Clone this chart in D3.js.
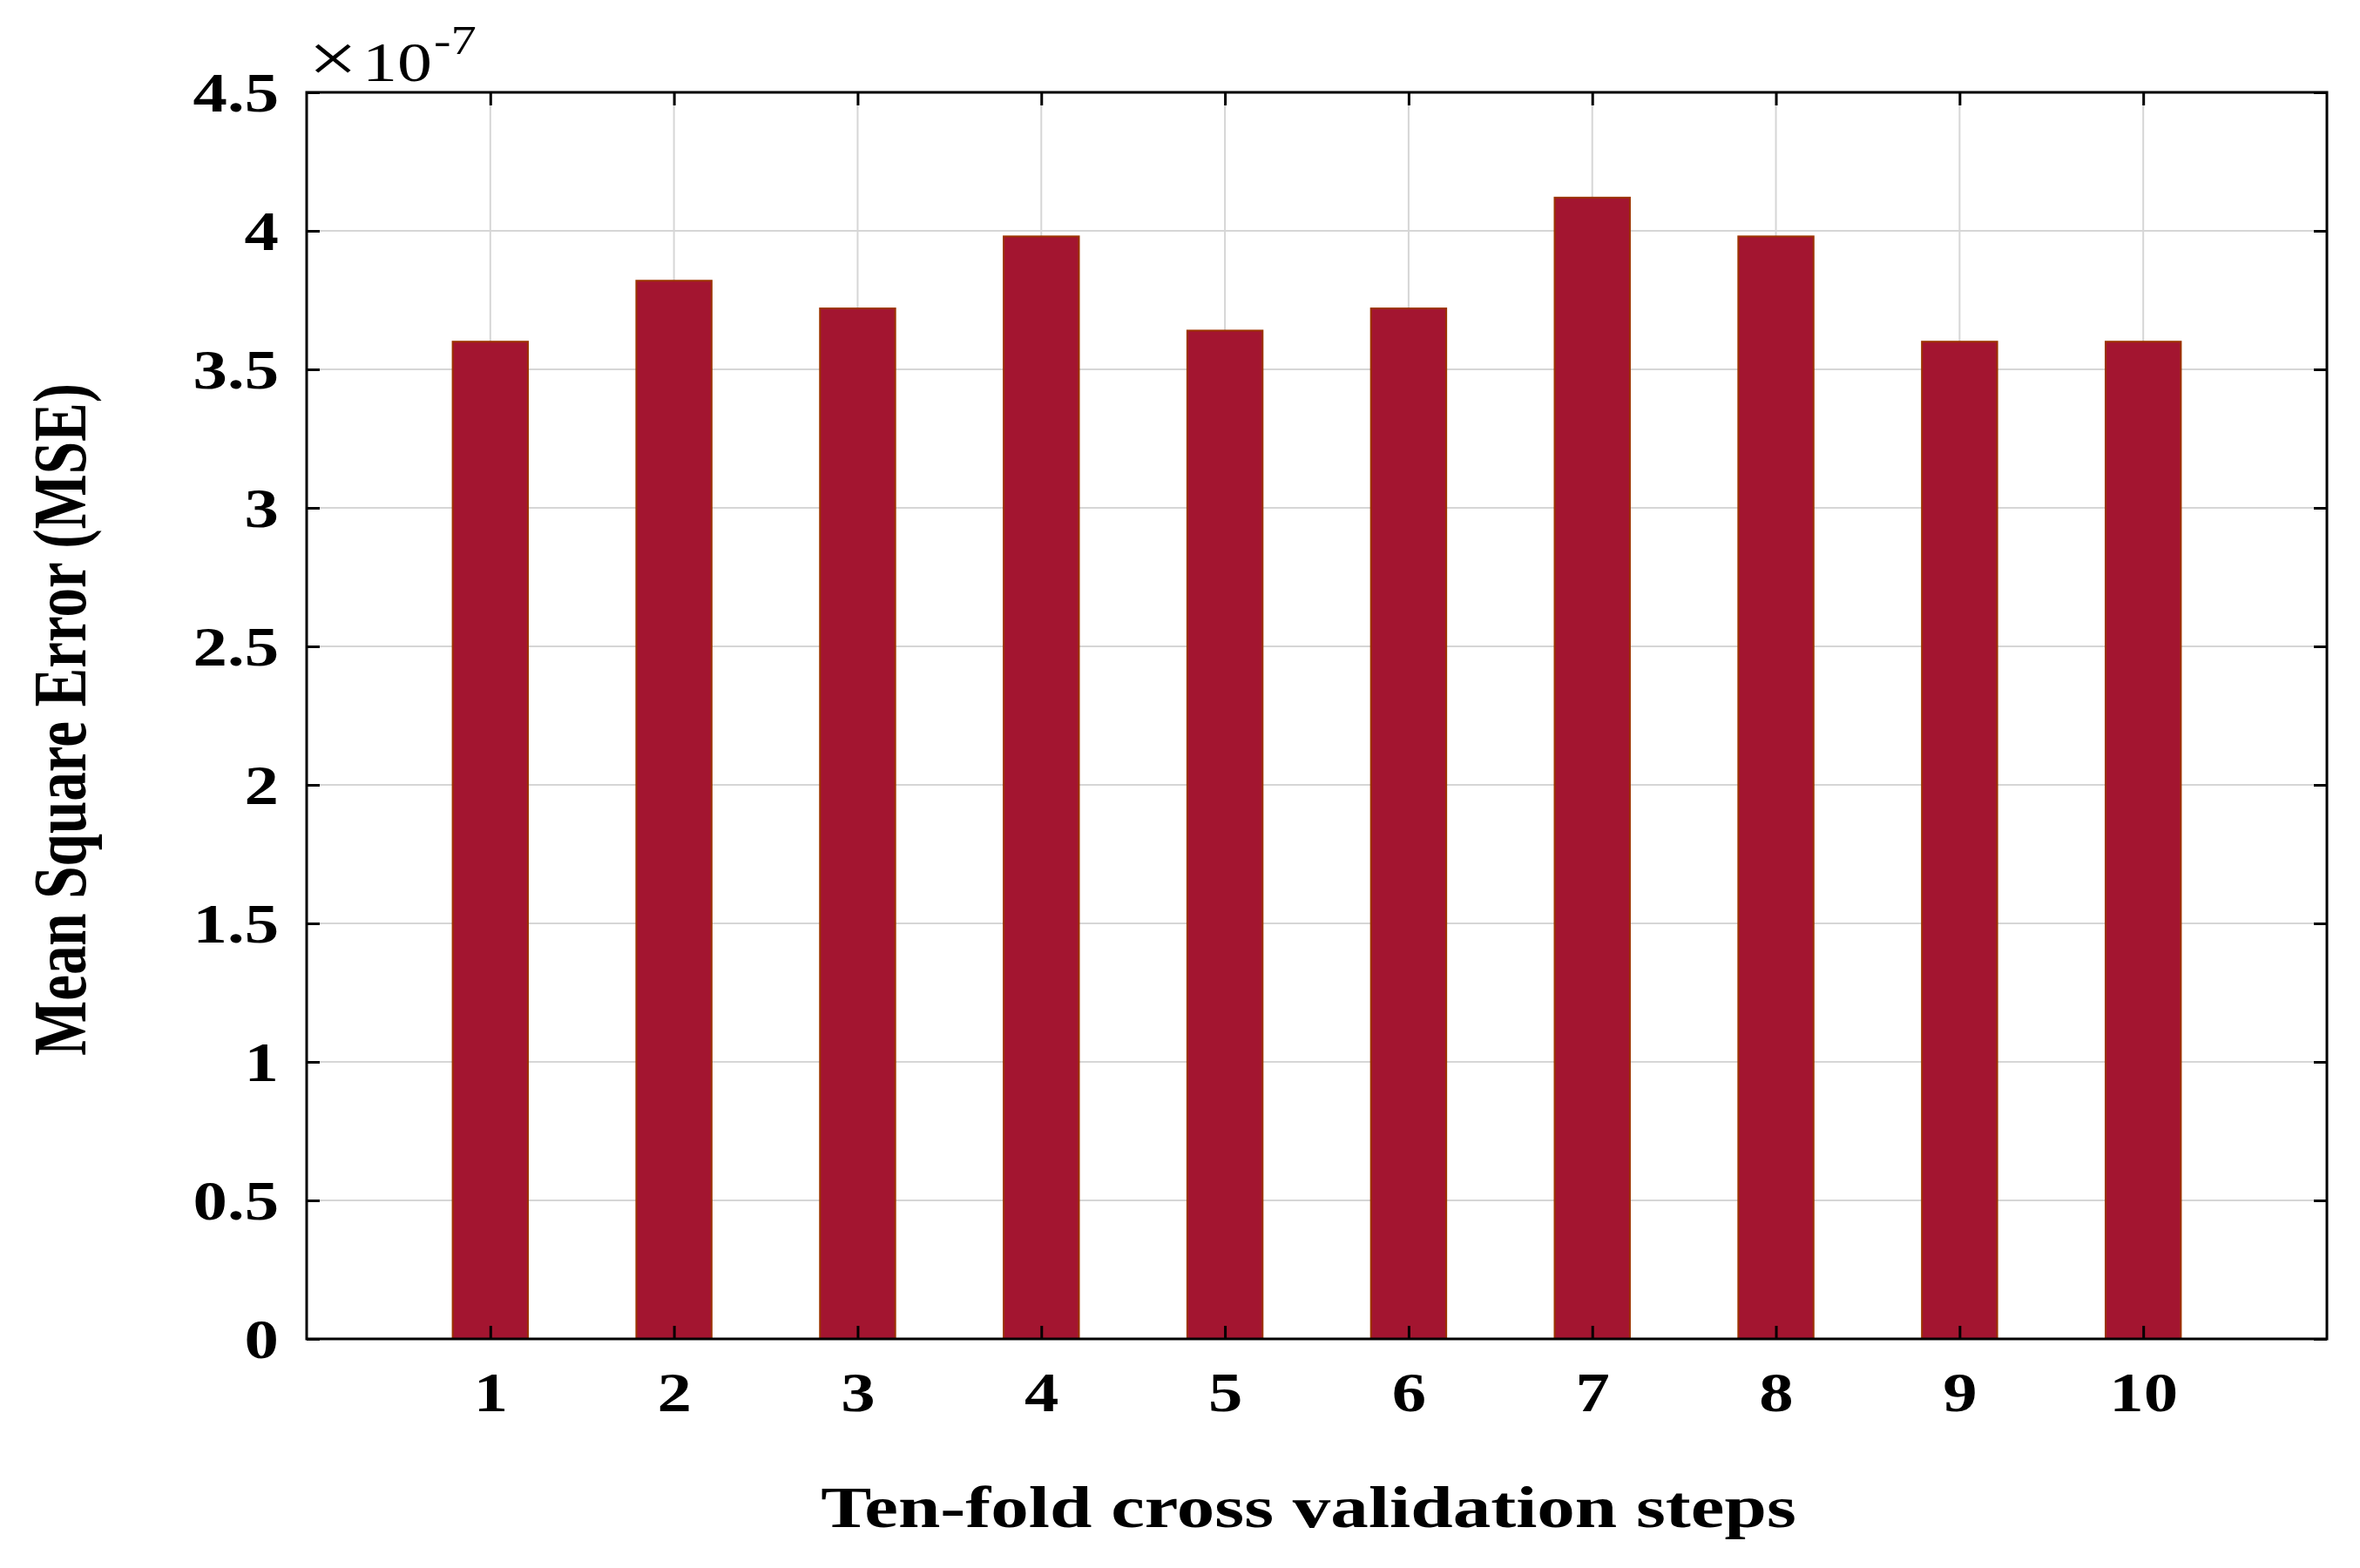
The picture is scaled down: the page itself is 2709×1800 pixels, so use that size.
<!DOCTYPE html>
<html>
<head>
<meta charset="utf-8">
<script src="https://cdn.jsdelivr.net/npm/d3@7"></script>
<style>
  html, body { margin: 0; padding: 0; background: #fff; }
  svg { display: block; }
</style>
</head>
<body>
<svg id="chart" width="2709" height="1800"></svg>
<script>
// ---- data ----
const steps = [1, 2, 3, 4, 5, 6, 7, 8, 9, 10];
const mse = [3.60, 3.82, 3.72, 3.98, 3.64, 3.72, 4.12, 3.98, 3.60, 3.60]; // x 1e-7
const yTicks = [0, 0.5, 1, 1.5, 2, 2.5, 3, 3.5, 4, 4.5];
const xLabel = "Ten-fold cross validation steps";
const yLabel = "Mean Square Error (MSE)";
const exponentTimes = "\u00d7";
const exponentBase = "10";
const exponentPower = "-7";

(function () {
// ---- layout ----
const W = 2709, H = 1800;
const pL = 352, pR = 2671, pT = 106, pB = 1537;
const stretch = 1.25;
const font = "'Liberation Serif', 'Times New Roman', serif";

const svg = d3.select("#chart");
svg.append("rect").attr("width", W).attr("height", H).attr("fill", "#fff");

const x = d3.scaleLinear().domain([0, 11]).range([pL, pR]);
const y = d3.scaleLinear().domain([0, 4.5]).range([pB, pT]);
const barW = (x(1) - x(0)) * 0.41;

// grid
const grid = svg.append("g");
grid.selectAll("line.gx").data(steps).enter().append("line")
  .attr("x1", d => x(d)).attr("x2", d => x(d))
  .attr("y1", pT).attr("y2", pB)
  .attr("stroke", "#d6d6d6").attr("stroke-width", 2);
grid.selectAll("line.gy").data(yTicks).enter().append("line")
  .attr("x1", pL).attr("x2", pR)
  .attr("y1", d => y(d)).attr("y2", d => y(d))
  .attr("stroke", "#d6d6d6").attr("stroke-width", 2);

// bars
svg.append("g").selectAll("rect").data(steps).enter().append("rect")
  .attr("x", (d) => x(d) - barW / 2)
  .attr("width", barW)
  .attr("y", (d, i) => y(mse[i]))
  .attr("height", (d, i) => y(0) - y(mse[i]))
  .attr("fill", "#a31530")
  .attr("stroke", "#9c3300")
  .attr("stroke-width", 2);

// axes (inward ticks)
const tickLen = 15;
const xAxis = svg.append("g").attr("transform", `translate(0,${pB})`)
  .call(d3.axisBottom(x).tickValues(steps).tickSizeInner(-tickLen).tickSizeOuter(0).tickPadding(0).tickFormat(d3.format("d")));
const xAxisTop = svg.append("g").attr("transform", `translate(0,${pT})`)
  .call(d3.axisTop(x).tickValues(steps).tickSizeInner(-tickLen).tickSizeOuter(0).tickFormat(""));
const yAxis = svg.append("g").attr("transform", `translate(${pL},0)`)
  .call(d3.axisLeft(y).tickValues(yTicks).tickSizeInner(-tickLen).tickSizeOuter(0).tickPadding(0).tickFormat(d3.format("~g")));
const yAxisRight = svg.append("g").attr("transform", `translate(${pR},0)`)
  .call(d3.axisRight(y).tickValues(yTicks).tickSizeInner(-tickLen).tickSizeOuter(0).tickFormat(""));

[xAxis, xAxisTop, yAxis, yAxisRight].forEach(g => {
  g.select(".domain").remove();
  g.selectAll(".tick line").attr("stroke", "#000").attr("stroke-width", 3);
});

xAxis.selectAll(".tick text")
  .attr("font-family", font).attr("font-weight", "bold").attr("font-size", 63)
  .attr("fill", "#000").attr("y", 0).attr("dy", 0)
  .attr("transform", `translate(0,${1620 - pB}) scale(${stretch},1)`);

yAxis.selectAll(".tick text")
  .attr("font-family", font).attr("font-weight", "bold").attr("font-size", 63)
  .attr("fill", "#000").attr("x", 0).attr("dy", 0)
  .attr("text-anchor", "end")
  .attr("transform", `translate(${320 - pL},21) scale(${stretch},1)`);

// box
svg.append("rect")
  .attr("x", pL).attr("y", pT)
  .attr("width", pR - pL).attr("height", pB - pT)
  .attr("fill", "none").attr("stroke", "#000").attr("stroke-width", 3);

// exponent label
svg.append("text")
  .attr("font-family", font).attr("font-size", 80).attr("fill", "#000")
  .attr("transform", `translate(354,94) scale(${stretch},1)`)
  .text(exponentTimes);
svg.append("text")
  .attr("font-family", font).attr("font-size", 64).attr("fill", "#000")
  .attr("transform", `translate(416,93) scale(${stretch},1)`)
  .text(exponentBase);
svg.append("text")
  .attr("font-family", font).attr("font-size", 47).attr("fill", "#000")
  .attr("transform", `translate(498,62) scale(${stretch},1)`)
  .text(exponentPower);

// axis titles
svg.append("text")
  .attr("font-family", font).attr("font-weight", "bold").attr("font-size", 68)
  .attr("fill", "#000").attr("text-anchor", "middle")
  .attr("transform", `translate(1502,1753) scale(1.28,1)`)
  .text(xLabel);

svg.append("text")
  .attr("font-family", font).attr("font-weight", "bold").attr("font-size", 67)
  .attr("fill", "#000").attr("text-anchor", "middle")
  .attr("transform", `translate(98,826) scale(1.28,1) rotate(-90)`)
  .text(yLabel);
})();
</script>
</body>
</html>
